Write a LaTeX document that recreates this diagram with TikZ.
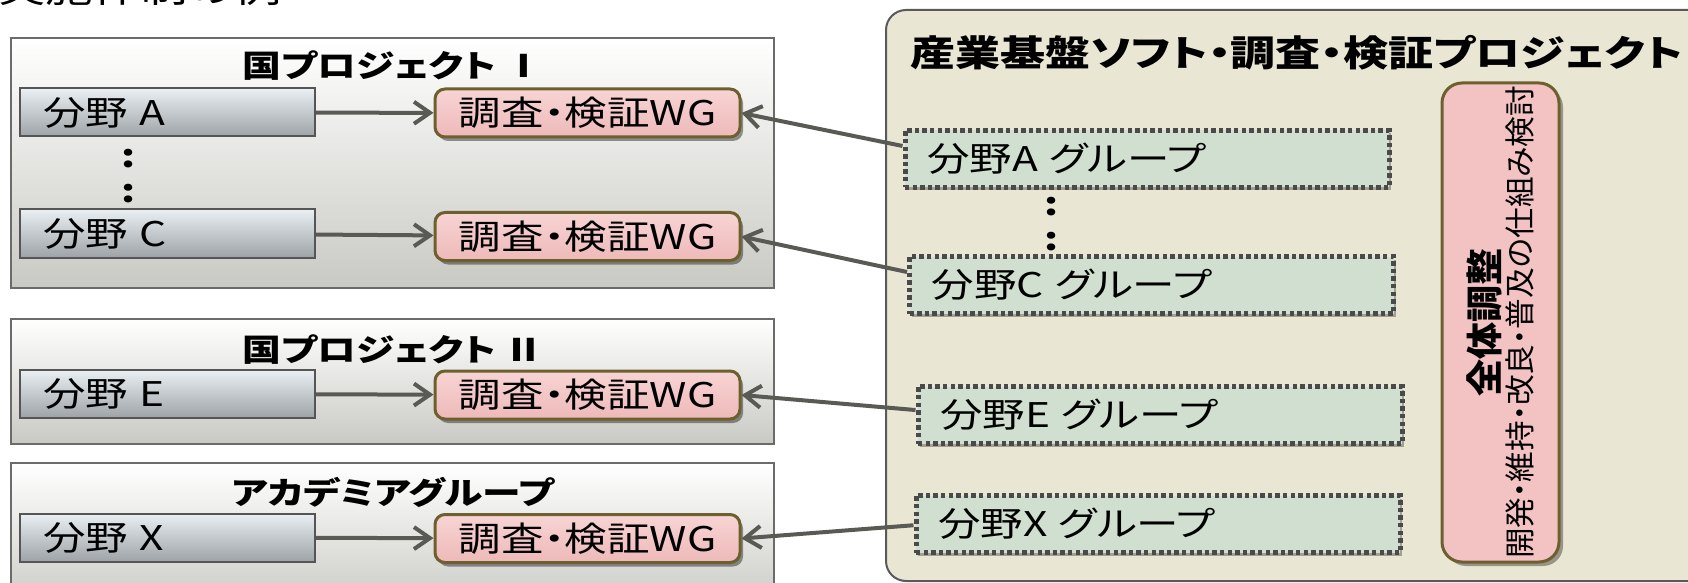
\documentclass[tikz,border=0pt]{standalone}
\usepackage{fontspec}
\setmainfont{Noto Sans CJK JP}[FakeStretch=1.25, RawFeature=+palt]
\newfontfamily\jpv{Noto Sans CJK JP}[RawFeature=+palt]
\usetikzlibrary{arrows.meta,shadows,calc}
\definecolor{cOuterLine}{HTML}{6B6B6B}
\definecolor{cOuterBot}{HTML}{C9C9C4}
\definecolor{cFieldLine}{HTML}{555555}
\definecolor{cFieldTop}{HTML}{E9EFF2}
\definecolor{cFieldBot}{HTML}{9DA3A6}
\definecolor{cWGLine}{HTML}{6E5F2E}
\definecolor{cWGTop}{HTML}{F8D4D4}
\definecolor{cWGBot}{HTML}{EEB9B9}
\definecolor{cRight}{HTML}{E9E6D4}
\definecolor{cRightLine}{HTML}{5A5A5A}
\definecolor{cGroup}{HTML}{D0DFD0}
\definecolor{cGroupLine}{HTML}{4A4A4A}
\definecolor{cPink}{HTML}{F3C3C3}
\definecolor{cArrow}{HTML}{5A5A55}
\tikzset{
  outerbox/.style={draw=cOuterLine, line width=1pt, top color=white, bottom color=cOuterBot,
    minimum width=381.5pt, inner sep=0pt},
  boxtitle/.style={font=\bfseries\fontsize{15.5}{18}\selectfont, inner sep=0pt},
  fieldbox/.style={draw=cFieldLine, line width=1pt, top color=cFieldTop, bottom color=cFieldBot,
    minimum height=24pt, text width=124.5pt, align=left, inner xsep=11.5pt, inner ysep=0pt,
    font=\fontsize{17}{19}\selectfont},
  wgbox/.style={draw=cWGLine, line width=1.5pt, rounded corners=5pt, top color=cWGTop, bottom color=cWGBot,
    minimum width=152.5pt, minimum height=24pt, inner sep=0pt, font=\fontsize{17}{19}\selectfont,
    drop shadow={shadow xshift=1.5pt, shadow yshift=-2pt, opacity=0.4, fill=black}},
  groupbox/.style={draw=cGroupLine, line width=2.5pt, dash pattern=on 2.2pt off 1.6pt, fill=cGroup,
    minimum height=28.5pt, text width=220pt, inner xsep=11pt, inner ysep=0pt, align=left,
    font=\fontsize{17}{19}\selectfont,
    drop shadow={shadow xshift=1pt, shadow yshift=-1.5pt, opacity=0.3, fill=black}},
  vdots/.style={font=\bfseries\fontsize{16}{18}\selectfont, inner sep=0pt},
  link/.style={draw=cArrow, line width=2pt, -{Straight Barb[length=8pt,width=11pt]}},
}
\begin{document}
\begin{tikzpicture}[x=0.5pt,y=-0.5pt]
\useasboundingbox (0,0) rectangle (1688,583);
\clip (0,0) rectangle (1688,583);
\fill[white] (0,0) rectangle (1688,583);

% cropped heading
\node[anchor=base west, inner sep=0pt, font=\fontsize{19}{23}\selectfont] (head) at (-2,3) {実施体制の例};

% left containers
\node[outerbox, minimum height=125pt] (p1) at (392.5,163) {};
\node[boxtitle] (t1) at (393,66) {国プロジェクト Ⅰ};
\node[outerbox, minimum height=62.5pt] (p2) at (392.5,381.5) {};
\node[boxtitle] (t2) at (393,350) {国プロジェクト Ⅱ};
\node[outerbox, minimum height=73.5pt] (p3) at (392.5,536.5) {};
\node[boxtitle] (t3) at (393,492) {アカデミアグループ};

\node[fieldbox] (fA) at (167.5,112.5) {分野 A};
\node[vdots] (d1) at (129,159) {:};
\node[vdots] (d2) at (129,194) {:};
\node[fieldbox] (fC) at (167.5,233.5) {分野 C};
\node[fieldbox] (fE) at (167.5,394) {分野 E};
\node[fieldbox] (fX) at (167.5,537.5) {分野 X};

\node[wgbox] (wA) at (587.5,113) {調査・検証WG};
\node[wgbox] (wC) at (587.5,236.5) {調査・検証WG};
\node[wgbox] (wE) at (587.5,395) {調査・検証WG};
\node[wgbox] (wX) at (587.5,538.5) {調査・検証WG};

% right container
\node[draw=cRightLine, line width=1pt, fill=cRight, rounded corners=10pt,
      minimum width=422pt, minimum height=285.5pt, inner sep=0pt] (pr) at (1308,295.5) {};
\node[font=\bfseries\fontsize{18}{21}\selectfont, inner sep=0pt] (tr) at (1296.5,53) {産業基盤ソフト・調査・検証プロジェクト};

\node[groupbox] (gA) at (1147,159) {分野A グループ};
\node[vdots] (d3) at (1051.5,206.5) {:};
\node[vdots] (d4) at (1051.5,241.5) {:};
\node[groupbox] (gC) at (1151.5,285) {分野C グループ};
\node[groupbox] (gE) at (1160,415) {分野E グループ};
\node[groupbox] (gX) at (1158,524) {分野X グループ};

\node[rotate=90, draw=cWGLine, line width=1.5pt, fill=cPink, rounded corners=10pt,
      minimum width=239.5pt, minimum height=58.5pt, inner sep=0pt, align=center,
      drop shadow={shadow xshift=2pt, shadow yshift=-2pt, opacity=0.35, fill=black}] (all) at (1500.5,322.5)
  {{\jpv\bfseries\fontsize{18.5}{21}\selectfont 全体調整}\\[1pt]{\jpv\fontsize{15.3}{18}\selectfont 開発・維持・改良・普及の仕組み検討}};

% connectors
\draw[link] (fA) -- (wA);
\draw[link] (fC) -- (wC);
\draw[link] (fE) -- (wE);
\draw[link] (fX) -- (wX);
\draw[link] ($(gA.north west)!0.29!(gA.south west)$) -- (wA.east);
\draw[link] ($(gC.north west)!0.29!(gC.south west)$) -- (wC.east);
\draw[link] ($(gE.north west)!0.42!(gE.south west)$) -- (wE.east);
\draw[link] ($(gX.north west)!0.52!(gX.south west)$) -- (wX.east);
\end{tikzpicture}
\end{document}
